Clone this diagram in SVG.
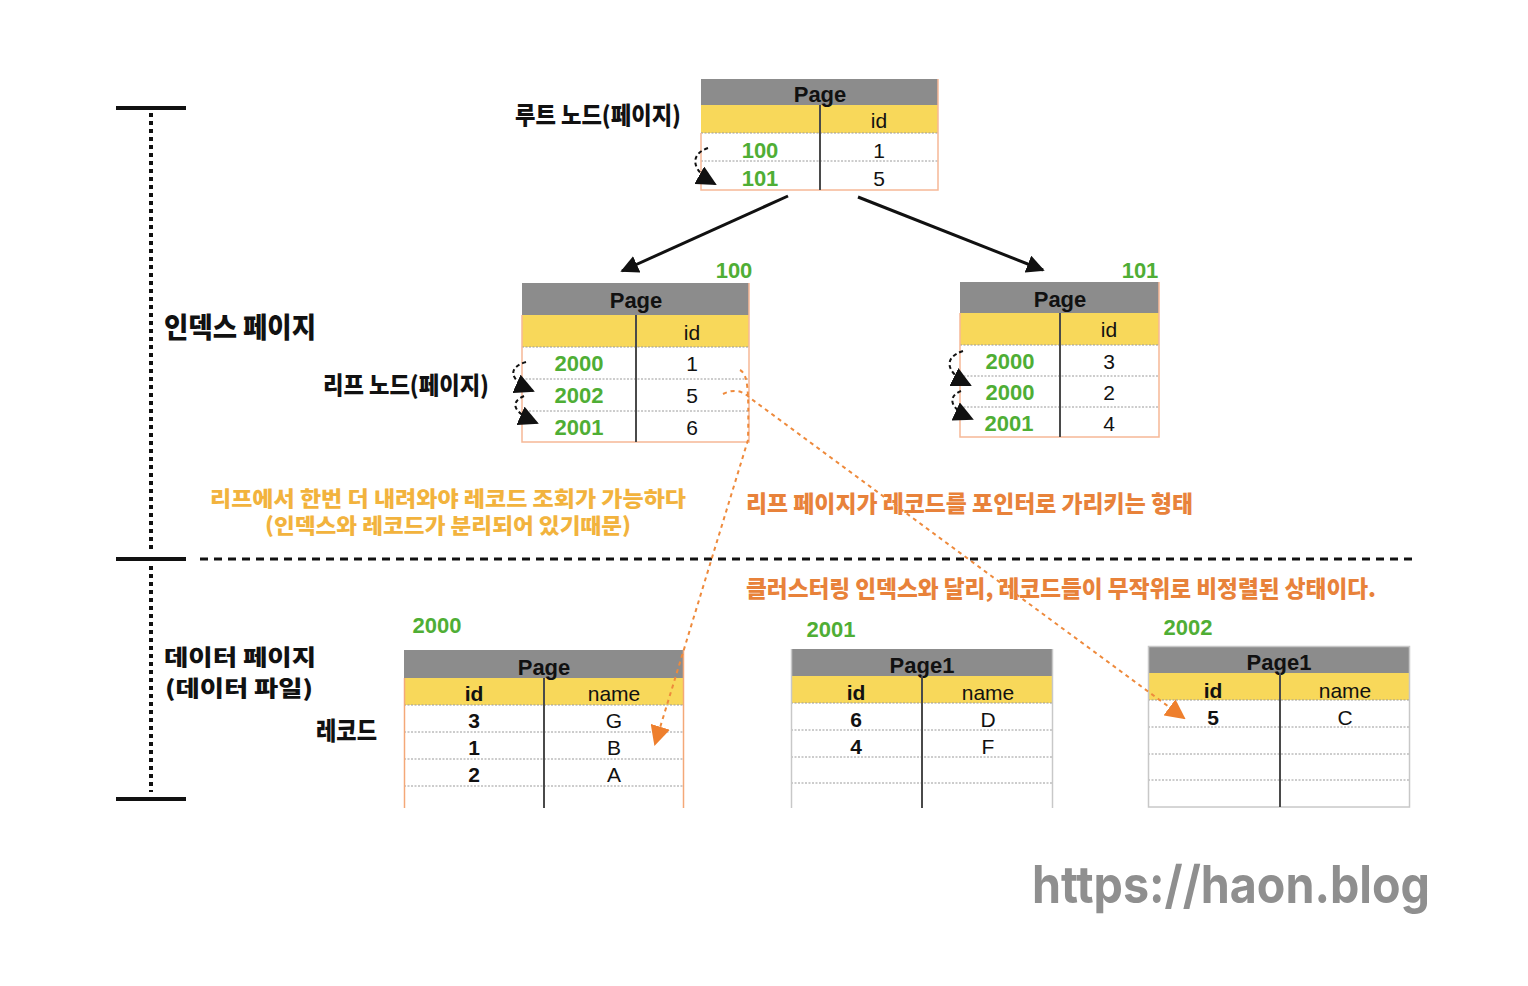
<svg xmlns="http://www.w3.org/2000/svg" width="1528" height="986" viewBox="0 0 1528 986">
<style>
.hdr{fill:#8c8c8c}
.yel{fill:#f8d85a}
.cell{fill:#ffffff}
.div{stroke:#4a4a4a;stroke-width:2}
.dot{stroke:#9a9a9a;stroke-width:1;stroke-dasharray:2 1.5}
.ob{stroke:#f6b896;stroke-width:1.5;fill:none}
.gb{stroke:#c8c8c8;stroke-width:1.5;fill:none}
.pt{font-family:"Liberation Sans",Arial,sans-serif;font-weight:bold;font-size:22px;fill:#111;text-anchor:middle}
.ct{font-family:"Liberation Sans",Arial,sans-serif;font-size:21px;fill:#111;text-anchor:middle}
.cb{font-family:"Liberation Sans",Arial,sans-serif;font-weight:bold;font-size:21px;fill:#111;text-anchor:middle}
.gn{font-family:"Liberation Sans",Arial,sans-serif;font-weight:bold;font-size:22px;fill:#4fae35;text-anchor:middle}
.kr{font-family:"Noto Sans CJK KR","Noto Sans",sans-serif;font-weight:900;fill:#111}
.ky{font-family:"Noto Sans CJK KR","Noto Sans",sans-serif;font-weight:900;fill:#f2b33d}
.ko{font-family:"Noto Sans CJK KR","Noto Sans",sans-serif;font-weight:900;fill:#e8823a}
.blk{stroke:#111;stroke-width:3;fill:none}
.bd{stroke:#111;stroke-width:2;fill:none;stroke-dasharray:4 3}
.od{stroke:#ee8a3c;stroke-width:2;fill:none;stroke-dasharray:4 4}
</style>
<defs>
<marker id="ab" viewBox="0 0 10 10" refX="9" refY="5" markerWidth="6" markerHeight="6" orient="auto" markerUnits="strokeWidth"><path d="M0,0 L10,5 L0,10 z" fill="#111"/></marker>
<marker id="abs" viewBox="0 0 10 10" refX="9" refY="5" markerWidth="10" markerHeight="10" orient="auto" markerUnits="strokeWidth"><path d="M0,0 L10,5 L0,10 z" fill="#111"/></marker>
<marker id="ao" viewBox="0 0 10 10" refX="9" refY="5" markerWidth="10" markerHeight="10" orient="auto" markerUnits="strokeWidth"><path d="M0,0 L10,5 L0,10 z" fill="#ee7f2d"/></marker>
</defs>
<rect width="1528" height="986" fill="#ffffff"/>

<!-- left bracket -->
<g id="bracket">
<line x1="116" y1="108" x2="186" y2="108" stroke="#111" stroke-width="4"/>
<line x1="116" y1="559" x2="186" y2="559" stroke="#111" stroke-width="4"/>
<line x1="116" y1="799" x2="186" y2="799" stroke="#111" stroke-width="4"/>
<line x1="151" y1="113" x2="151" y2="553" stroke="#111" stroke-width="4" stroke-dasharray="4 4"/>
<line x1="151" y1="566" x2="151" y2="792" stroke="#111" stroke-width="4" stroke-dasharray="4 4"/>
<line x1="200" y1="559" x2="1412" y2="559" stroke="#111" stroke-width="3" stroke-dasharray="8 6"/>
</g>

<!-- labels -->
<g id="labels">
<text class="kr" x="515" y="124" font-size="24" textLength="166" lengthAdjust="spacingAndGlyphs">루트 노드(페이지)</text>
<text class="kr" x="164" y="338" font-size="28" textLength="152" lengthAdjust="spacingAndGlyphs">인덱스 페이지</text>
<text class="kr" x="323" y="394" font-size="24" textLength="166" lengthAdjust="spacingAndGlyphs">리프 노드(페이지)</text>
<text class="ky" x="210" y="506" font-size="21" textLength="476" lengthAdjust="spacingAndGlyphs">리프에서 한번 더 내려와야 레코드 조회가 가능하다</text>
<text class="ky" x="265" y="533" font-size="21" textLength="366" lengthAdjust="spacingAndGlyphs">(인덱스와 레코드가 분리되어 있기때문)</text>
<text class="ko" x="746" y="512" font-size="23" textLength="447" lengthAdjust="spacingAndGlyphs">리프 페이지가 레코드를 포인터로 가리키는 형태</text>
<text class="ko" x="746" y="597" font-size="23" textLength="630" lengthAdjust="spacingAndGlyphs">클러스터링 인덱스와 달리, 레코드들이 무작위로 비정렬된 상태이다.</text>
<text class="kr" x="164" y="665" font-size="22" textLength="152" lengthAdjust="spacingAndGlyphs">데이터 페이지</text>
<text class="kr" x="165" y="696" font-size="22" textLength="148" lengthAdjust="spacingAndGlyphs">(데이터 파일)</text>
<text class="kr" x="316" y="740" font-size="25" textLength="61" lengthAdjust="spacingAndGlyphs">레코드</text>
<text x="1032" y="903" font-family="Inter,'Noto Sans',sans-serif" font-weight="bold" font-size="52" fill="#8f8f8f" textLength="398" lengthAdjust="spacingAndGlyphs">https://haon.blog</text>
</g>

<!-- root node -->
<g id="root">
<rect class="hdr" x="701" y="79" width="237" height="26"/>
<rect class="yel" x="701" y="105" width="237" height="28"/>
<rect class="cell" x="701" y="133" width="237" height="57"/>
<text class="pt" x="820" y="102">Page</text>
<line class="dot" x1="701" y1="133" x2="938" y2="133"/>
<line class="dot" x1="701" y1="161" x2="938" y2="161"/>
<path class="ob" d="M701,133 V190 H938 V79"/>
<line class="div" x1="820" y1="105" x2="820" y2="190"/>
<text class="ct" x="879" y="128">id</text>
<text class="gn" x="760" y="158">100</text>
<text class="ct" x="879" y="158">1</text>
<text class="gn" x="760" y="186">101</text>
<text class="ct" x="879" y="186">5</text>
</g>

<!-- leaf 100 -->
<g id="leaf100">
<text class="gn" x="734" y="278">100</text>
<rect class="hdr" x="522" y="283" width="227" height="32"/>
<rect class="yel" x="522" y="315" width="227" height="32"/>
<rect class="cell" x="522" y="347" width="227" height="95"/>
<text class="pt" x="636" y="308">Page</text>
<line class="dot" x1="522" y1="347" x2="749" y2="347"/>
<line class="dot" x1="522" y1="379" x2="749" y2="379"/>
<line class="dot" x1="522" y1="411" x2="749" y2="411"/>
<path class="ob" d="M522,315 V442 H749 V283"/>
<line class="div" x1="636" y1="315" x2="636" y2="442"/>
<text class="ct" x="692" y="340">id</text>
<text class="gn" x="579" y="371">2000</text>
<text class="ct" x="692" y="371">1</text>
<text class="gn" x="579" y="403">2002</text>
<text class="ct" x="692" y="403">5</text>
<text class="gn" x="579" y="435">2001</text>
<text class="ct" x="692" y="435">6</text>
</g>

<!-- leaf 101 -->
<g id="leaf101">
<text class="gn" x="1140" y="278">101</text>
<rect class="hdr" x="960" y="282" width="199" height="31"/>
<rect class="yel" x="960" y="313" width="199" height="32"/>
<rect class="cell" x="960" y="345" width="199" height="92"/>
<text class="pt" x="1060" y="307">Page</text>
<line class="dot" x1="960" y1="345" x2="1159" y2="345"/>
<line class="dot" x1="960" y1="376" x2="1159" y2="376"/>
<line class="dot" x1="960" y1="407" x2="1159" y2="407"/>
<path class="ob" d="M960,313 V437 H1159 V282"/>
<line class="div" x1="1060" y1="313" x2="1060" y2="437"/>
<text class="ct" x="1109" y="337">id</text>
<text class="gn" x="1010" y="369">2000</text>
<text class="ct" x="1109" y="369">3</text>
<text class="gn" x="1010" y="400">2000</text>
<text class="ct" x="1109" y="400">2</text>
<text class="gn" x="1009" y="431">2001</text>
<text class="ct" x="1109" y="431">4</text>
</g>

<!-- data 2000 -->
<g id="data2000">
<text class="gn" x="437" y="633">2000</text>
<rect class="hdr" x="404" y="650" width="280" height="28"/>
<rect class="yel" x="404" y="678" width="280" height="27"/>
<text class="pt" x="544" y="675">Page</text>
<line class="dot" x1="404" y1="705" x2="684" y2="705"/>
<line class="dot" x1="404" y1="732" x2="684" y2="732"/>
<line class="dot" x1="404" y1="759" x2="684" y2="759"/>
<line class="dot" x1="404" y1="786" x2="684" y2="786"/>
<line x1="404.5" y1="678" x2="404.5" y2="808" stroke="#f4a878" stroke-width="1.5"/>
<line x1="683.5" y1="650" x2="683.5" y2="808" stroke="#f4a878" stroke-width="1.5"/>
<line class="div" x1="544" y1="678" x2="544" y2="808"/>
<text class="cb" x="474" y="701">id</text>
<text class="ct" x="614" y="701">name</text>
<text class="cb" x="474" y="728">3</text>
<text class="ct" x="614" y="728">G</text>
<text class="cb" x="474" y="755">1</text>
<text class="ct" x="614" y="755">B</text>
<text class="cb" x="474" y="782">2</text>
<text class="ct" x="614" y="782">A</text>
</g>

<!-- data 2001 -->
<g id="data2001">
<text class="gn" x="831" y="637">2001</text>
<rect class="hdr" x="791" y="649" width="262" height="27"/>
<rect class="yel" x="791" y="676" width="262" height="27"/>
<text class="pt" x="922" y="673">Page1</text>
<line class="dot" x1="791" y1="703" x2="1053" y2="703"/>
<line class="dot" x1="791" y1="730" x2="1053" y2="730"/>
<line class="dot" x1="791" y1="757" x2="1053" y2="757"/>
<line class="dot" x1="791" y1="783" x2="1053" y2="783"/>
<line x1="791.5" y1="649" x2="791.5" y2="808" stroke="#c8c8c8" stroke-width="1.5"/>
<line x1="1052.5" y1="649" x2="1052.5" y2="808" stroke="#c8c8c8" stroke-width="1.5"/>
<line class="div" x1="922" y1="676" x2="922" y2="808"/>
<text class="cb" x="856" y="700">id</text>
<text class="ct" x="988" y="700">name</text>
<text class="cb" x="856" y="727">6</text>
<text class="ct" x="988" y="727">D</text>
<text class="cb" x="856" y="754">4</text>
<text class="ct" x="988" y="754">F</text>
</g>

<!-- data 2002 -->
<g id="data2002">
<text class="gn" x="1188" y="635">2002</text>
<rect class="hdr" x="1148" y="646" width="262" height="27"/>
<rect class="yel" x="1148" y="673" width="262" height="27"/>
<text class="pt" x="1279" y="670">Page1</text>
<line class="dot" x1="1148" y1="700" x2="1410" y2="700"/>
<line class="dot" x1="1148" y1="727" x2="1410" y2="727"/>
<line class="dot" x1="1148" y1="754" x2="1410" y2="754"/>
<line class="dot" x1="1148" y1="780" x2="1410" y2="780"/>
<rect class="gb" x="1148.5" y="646.5" width="261" height="160.5"/>
<line class="div" x1="1280" y1="673" x2="1280" y2="807"/>
<text class="cb" x="1213" y="698">id</text>
<text class="ct" x="1345" y="698">name</text>
<text class="cb" x="1213" y="725">5</text>
<text class="ct" x="1345" y="725">C</text>
</g>

<!-- connectors -->
<g id="connectors">
<line class="blk" x1="788" y1="196" x2="622" y2="271" marker-end="url(#ab)"/>
<line class="blk" x1="858" y1="197" x2="1043" y2="270" marker-end="url(#ab)"/>
<path class="bd" d="M708,148 C690,154 690,170 715,184" marker-end="url(#abs)"/>
<path class="bd" d="M526,362 C508,367 508,380 533,391" marker-end="url(#abs)"/>
<path class="bd" d="M524,396 C510,402 512,412 537,423" marker-end="url(#abs)"/>
<path class="bd" d="M963,351 C944,357 944,372 970,385" marker-end="url(#abs)"/>
<path class="bd" d="M961,391 C948,396 948,408 972,419" marker-end="url(#abs)"/>
<path class="od" d="M740,370 C748,374 749,390 748,440 L655,744" marker-end="url(#ao)"/>
<path class="od" d="M723,394 C733,389 742,390 750,398 L1184,718" marker-end="url(#ao)"/>
</g>
</svg>
